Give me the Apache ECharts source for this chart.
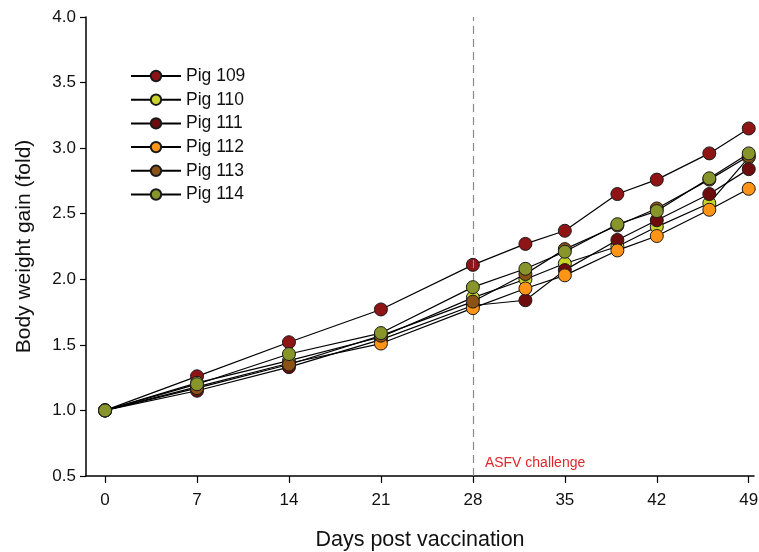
<!DOCTYPE html>
<html>
<head>
<meta charset="utf-8">
<script src="https://cdn.jsdelivr.net/npm/echarts@6/dist/echarts.min.js"></script>
<style>
  html, body { margin: 0; padding: 0; background: #fff; }
  #chart { width: 759px; height: 552px; }
</style>
</head>
<body>
<div id="chart"></div>
<script>
// Sampling days after vaccination
const days = [0, 7, 14, 21, 28, 32, 35, 39, 42, 46, 49];
const dayTicks = [0, 7, 14, 21, 28, 35, 42, 49];

// Body weight gain (fold of day-0 weight) per animal
const pig109 = [1.00, 1.26, 1.52, 1.77, 2.11, 2.27, 2.37, 2.65, 2.76, 2.96, 3.15];
const pig110 = [1.00, 1.21, 1.38, 1.56, 1.86, 2.00, 2.12, 2.25, 2.40, 2.58, 2.93];
const pig111 = [1.00, 1.15, 1.33, 1.54, 1.80, 1.84, 2.07, 2.30, 2.45, 2.65, 2.84];
const pig112 = [1.00, 1.18, 1.36, 1.51, 1.78, 1.93, 2.03, 2.22, 2.33, 2.53, 2.69];
const pig113 = [1.00, 1.17, 1.35, 1.57, 1.83, 2.04, 2.23, 2.41, 2.54, 2.76, 2.94];
const pig114 = [1.00, 1.20, 1.43, 1.59, 1.94, 2.08, 2.21, 2.42, 2.52, 2.77, 2.96];

const challengeDay = 28;
const challengeLabel = 'ASFV challenge';

const pigs = [
  { name: 'Pig 109', values: pig109, color: '#8e1416' },
  { name: 'Pig 110', values: pig110, color: '#c9d42a' },
  { name: 'Pig 111', values: pig111, color: '#6e0b0c' },
  { name: 'Pig 112', values: pig112, color: '#ff9416' },
  { name: 'Pig 113', values: pig113, color: '#8a5214' },
  { name: 'Pig 114', values: pig114, color: '#87952a' }
];

const FONT = '"Liberation Sans", Arial, sans-serif';

const series = pigs.map(function (p, i) {
  const s = {
    name: p.name,
    type: 'line',
    data: days.map(function (d, k) { return [d, p.values[k]]; }),
    symbol: 'circle',
    symbolSize: 13,
    showAllSymbol: true,
    lineStyle: { color: '#000', width: 1.2 },
    itemStyle: { color: p.color, borderColor: '#1a1a1a', borderWidth: 1 },
    emphasis: { disabled: true },
    animation: false,
    z: 3 + i
  };
  if (i === 0) {
    s.markLine = {
      silent: true,
      symbol: 'none',
      animation: false,
      label: { show: false },
      lineStyle: { color: '#8a8a8a', type: [8, 5], width: 1.2 },
      data: [{ xAxis: challengeDay }]
    };
  }
  return s;
});

const chart = echarts.init(document.getElementById('chart'), null, { renderer: 'canvas' });

chart.setOption({
  backgroundColor: '#fff',
  animation: false,
  grid: { left: 86, right: 5, top: 17, bottom: 76, containLabel: false, outerBoundsMode: 'none' },
  legend: {
    orient: 'vertical',
    left: 125,
    top: 62,
    itemWidth: 50,
    itemHeight: 13,
    itemGap: 5.7,
    textStyle: { fontFamily: FONT, fontSize: 17.5, color: '#111' },
    data: pigs.map(function (p) { return p.name; })
  },
  xAxis: {
    type: 'value',
    min: -1.45,
    max: 49.4,
    name: 'Days post vaccination',
    nameLocation: 'middle',
    nameGap: 53,
    nameTextStyle: { fontFamily: FONT, fontSize: 21.5, color: '#111' },
    axisLine: { show: true, onZero: false, lineStyle: { color: '#000', width: 1.5 } },
    axisTick: { show: true, customValues: dayTicks, length: 7, lineStyle: { color: '#000', width: 1.2 } },
    axisLabel: { customValues: dayTicks, margin: 16, fontFamily: FONT, fontSize: 17, color: '#111' },
    splitLine: { show: false }
  },
  yAxis: {
    type: 'value',
    min: 0.5,
    max: 4.0,
    interval: 0.5,
    name: 'Body weight gain (fold)',
    nameLocation: 'middle',
    nameGap: 51,
    nameTextStyle: { fontFamily: FONT, fontSize: 21, color: '#111' },
    axisLine: { show: true, onZero: false, lineStyle: { color: '#000', width: 1.5 } },
    axisTick: { show: true, length: 6, lineStyle: { color: '#000', width: 1.2 } },
    axisLabel: {
      margin: 10, fontFamily: FONT, fontSize: 17, color: '#111',
      formatter: function (v) { return v.toFixed(1); }
    },
    splitLine: { show: false }
  },
  series: series
});

// Place the challenge annotation next to the dashed line, near the x axis
const anchor = chart.convertToPixel({ gridIndex: 0 }, [challengeDay, 0.5]);
chart.setOption({
  graphic: [{
    type: 'text',
    left: anchor[0] + 12,
    top: anchor[1] - 20,
    silent: true,
    style: { text: challengeLabel, fill: '#e0262b', font: '14px ' + FONT }
  }]
});
</script>
</body>
</html>
